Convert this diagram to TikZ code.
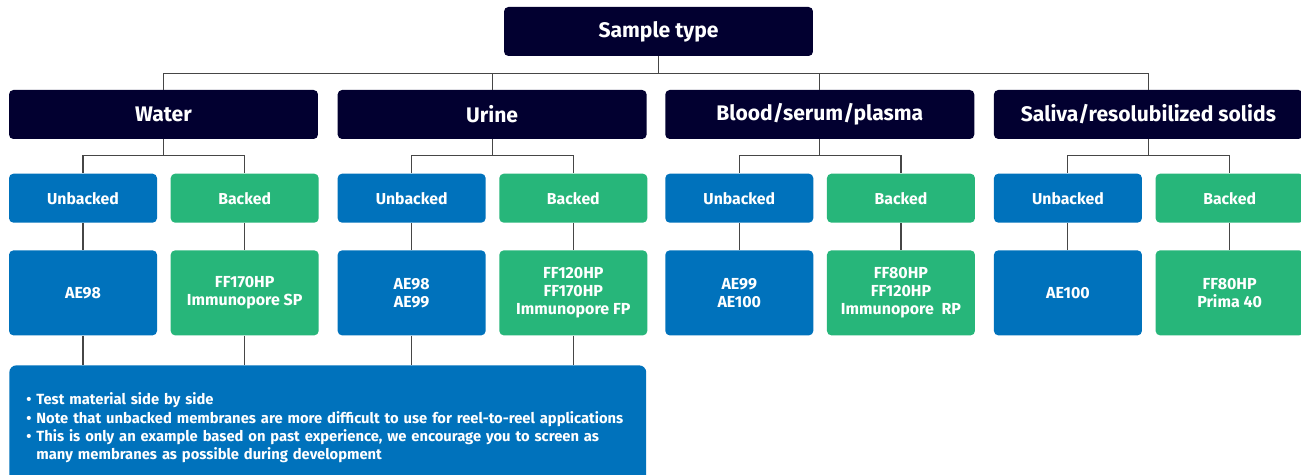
\documentclass[tikz,border=0pt]{standalone}
\usepackage{fontspec}
\setmainfont{Fira Sans}
\usetikzlibrary{positioning,calc}
\definecolor{catfill}{RGB}{2,0,48}
\definecolor{unbfill}{RGB}{0,114,188}
\definecolor{bckfill}{RGB}{39,182,122}
\definecolor{linkcol}{RGB}{70,70,70}

\begin{document}
\begin{tikzpicture}[
  x=0.02cm, y=-0.02cm,
  block/.style={
    rounded corners=2.5pt,
    align=center,
    text=white,
    inner sep=2pt
  },
  cat/.style={block, fill=catfill, minimum width=6.18cm, minimum height=0.98cm,
    font=\bfseries\fontsize{12}{13}\selectfont},
  unb/.style={block, fill=unbfill, minimum width=2.96cm, minimum height=0.98cm,
    font=\bfseries\fontsize{9}{10}\selectfont},
  bck/.style={unb, fill=bckfill},
  unbmem/.style={unb, minimum height=1.7cm, font=\bfseries\fontsize{9.1}{10.2}\selectfont},
  bckmem/.style={bck, minimum height=1.7cm, font=\bfseries\fontsize{9.1}{10.2}\selectfont},
  link/.style={draw=linkcol, line width=0.6pt},
  notebox/.style={
    fill=unbfill,
    rounded corners=4pt,
    text=white,
    align=left,
    text width=12.06cm,
    inner xsep=0.34cm,
    inner ysep=0.55cm,
    font=\bfseries\fontsize{8.4}{10.4}\selectfont
  }
]
\useasboundingbox (0,0) rectangle (1301,475);

% ========== Root and sample types ==========
\node[cat] (sample) at (658.5,31.5) {Sample type};
\node[cat] (water) at (163.5,114.5) {Water};
\node[cat, right=0.38cm of water] (urine) {Urine};
\node[cat, right=0.36cm of urine] (blood) {Blood/serum/plasma};
\node[cat, right=0.38cm of blood] (saliva) {Saliva/resolubilized solids};

\draw[link] (sample.south) -- ++(0,-0.34cm) -| (water.north);
\draw[link] (sample.south) -- ++(0,-0.34cm) -| (urine.north);
\draw[link] (sample.south) -- ++(0,-0.34cm) -| (blood.north);
\draw[link] (sample.south) -- ++(0,-0.34cm) -| (saliva.north);

% ========== Water ==========
\node[unb, below right=0.68cm and 0cm of water.south west] (water-unb) {Unbacked};
\node[bck, right=0.26cm of water-unb] (water-bck) {Backed};
\node[unbmem, below=0.54cm of water-unb] (water-unb-mem) {AE98};
\node[bckmem, below=0.54cm of water-bck] (water-bck-mem) {FF170HP\\Immunopore SP};

% ========== Urine ==========
\node[unb, below right=0.68cm and 0cm of urine.south west] (urine-unb) {Unbacked};
\node[bck, right=0.26cm of urine-unb] (urine-bck) {Backed};
\node[unbmem, below=0.54cm of urine-unb] (urine-unb-mem) {AE98\\AE99};
\node[bckmem, below=0.54cm of urine-bck] (urine-bck-mem) {FF120HP\\FF170HP\\Immunopore FP};

% ========== Blood ==========
\node[unb, below right=0.68cm and 0cm of blood.south west] (blood-unb) {Unbacked};
\node[bck, right=0.26cm of blood-unb] (blood-bck) {Backed};
\node[unbmem, below=0.54cm of blood-unb] (blood-unb-mem) {AE99\\AE100};
\node[bckmem, below=0.54cm of blood-bck] (blood-bck-mem) {FF80HP\\FF120HP\\Immunopore~~RP};

% ========== Saliva ==========
\node[unb, below right=0.68cm and 0cm of saliva.south west] (saliva-unb) {Unbacked};
\node[bck, right=0.26cm of saliva-unb] (saliva-bck) {Backed};
\node[unbmem, below=0.54cm of saliva-unb] (saliva-unb-mem) {AE100};
\node[bckmem, below=0.54cm of saliva-bck] (saliva-bck-mem) {FF80HP\\Prima 40};

% Branch connectors
\draw[link] (water.south) -- ++(0,-0.32cm) -| (water-unb.north);
\draw[link] (water.south) -- ++(0,-0.32cm) -| (water-bck.north);
\draw[link] (urine.south) -- ++(0,-0.32cm) -| (urine-unb.north);
\draw[link] (urine.south) -- ++(0,-0.32cm) -| (urine-bck.north);
\draw[link] (blood.south) -- ++(0,-0.32cm) -| (blood-unb.north);
\draw[link] (blood.south) -- ++(0,-0.32cm) -| (blood-bck.north);
\draw[link] (saliva.south) -- ++(0,-0.32cm) -| (saliva-unb.north);
\draw[link] (saliva.south) -- ++(0,-0.32cm) -| (saliva-bck.north);

\draw[link] (water-unb) -- (water-unb-mem);
\draw[link] (water-bck) -- (water-bck-mem);
\draw[link] (urine-unb) -- (urine-unb-mem);
\draw[link] (urine-bck) -- (urine-bck-mem);
\draw[link] (blood-unb) -- (blood-unb-mem);
\draw[link] (blood-bck) -- (blood-bck-mem);
\draw[link] (saliva-unb) -- (saliva-unb-mem);
\draw[link] (saliva-bck) -- (saliva-bck-mem);

% ========== Notes ==========
\node[notebox, anchor=north west] (notes) at (9,365) {%
  \mbox{\textbullet\ Test material side by side}\\
  \mbox{\textbullet\ Note that unbacked membranes are more difficult to use for reel-to-reel applications}\\
  \mbox{\textbullet\ This is only an example based on past experience, we encourage you to screen as}\\
  \mbox{\phantom{\textbullet\ }many membranes as possible during development}};

\draw[link] (water-unb-mem) -- (water-unb-mem |- notes.north);
\draw[link] (water-bck-mem) -- (water-bck-mem |- notes.north);
\draw[link] (urine-unb-mem) -- (urine-unb-mem |- notes.north);
\draw[link] (urine-bck-mem) -- (urine-bck-mem |- notes.north);

\end{tikzpicture}
\end{document}
